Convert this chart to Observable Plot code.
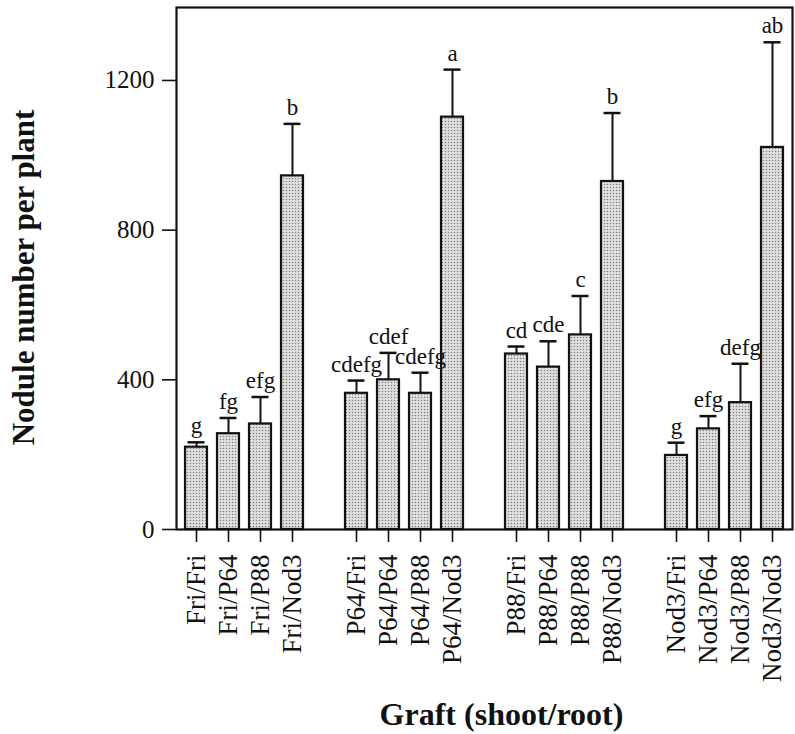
<!DOCTYPE html>
<html>
<head>
<meta charset="utf-8">
<script src="https://cdn.jsdelivr.net/npm/d3@7"></script>
<script src="https://cdn.jsdelivr.net/npm/@observablehq/plot@0.6"></script>
<style>
  html, body { margin: 0; padding: 0; background: #fff; }
</style>
</head>
<body>
<div id="chart"></div>
<script>
// Categories (graft shoot/root), in plotting order
const categories = [
  "Fri/Fri", "Fri/P64", "Fri/P88", "Fri/Nod3",
  "P64/Fri", "P64/P64", "P64/P88", "P64/Nod3",
  "P88/Fri", "P88/P64", "P88/P88", "P88/Nod3",
  "Nod3/Fri", "Nod3/P64", "Nod3/P88", "Nod3/Nod3"
];
// Mean nodule number per plant
const means = [220, 256, 282, 945, 364, 400, 364, 1102, 469, 434, 520, 930, 198, 269, 339, 1021];
// Standard error (upper bar only)
const errors = [13, 42, 72, 139, 34, 72, 55, 127, 20, 69, 104, 183, 34, 34, 104, 281];
// Significance letters
const letters = ["g", "fg", "efg", "b", "cdefg", "cdef", "cdefg", "a", "cd", "cde", "c", "b", "g", "efg", "defg", "ab"];
// Y-axis ticks
const yTicks = [0, 400, 800, 1200];
const yTitle = "Nodule number per plant";
const xTitle = "Graft (shoot/root)";

const rows = categories.map((c, i) => ({cat: c, mean: means[i], se: errors[i], top: means[i] + errors[i], letter: letters[i]}));

// Band domain with empty spacer slots between the four shoot groups
const domain = [];
categories.forEach((c, i) => {
  if (i > 0 && i % 4 === 0) domain.push("gap" + i);
  domain.push(c);
});

const plot = Plot.plot({
  width: 795,
  height: 734,
  marginLeft: 176,
  marginRight: 3,
  marginTop: 7,
  marginBottom: 205,
  style: {fontFamily: "'Liberation Serif', 'Times New Roman', serif", fontSize: "25px", color: "#111", background: "#fff"},
  x: {type: "band", domain, paddingInner: 0.3, paddingOuter: 0.15},
  y: {domain: [0, 1395]},
  marks: [
    Plot.ruleX(rows, {x: "cat", y1: "mean", y2: "top", stroke: "#111", strokeWidth: 2}),
    Plot.tickY(rows, {x: "cat", y: "top", stroke: "#111", strokeWidth: 2.5, insetLeft: 2.5, insetRight: 2.5}),
    Plot.barY(rows, {x: "cat", y: "mean", fill: "url(#dots)", stroke: "#111", strokeWidth: 2.2}),
    Plot.text(rows, {x: "cat", y: "top", text: "letter", lineAnchor: "bottom", dy: -9, fontSize: 23, fill: "#111"}),
    Plot.axisY({ticks: yTicks, tickFormat: d => String(d), tickSize: 14, tickPadding: 8, label: null, stroke: "#111", strokeWidth: 1.6, fontSize: 25}),
    Plot.axisX({ticks: categories, tickSize: 13, tickPadding: 12, tickRotate: -90, label: null, stroke: "#111", strokeWidth: 1.6, fontSize: 27}),
    Plot.frame({stroke: "#111", strokeWidth: 2.2}),
    Plot.text([yTitle], {frameAnchor: "left", textAnchor: "middle", lineAnchor: "middle", rotate: -90, dx: -152, dy: 9, fontSize: 31, fontWeight: "bold", fill: "#111"}),
    Plot.text([xTitle], {frameAnchor: "bottom", textAnchor: "middle", lineAnchor: "bottom", dx: 17, dy: 195, fontSize: 32, fontWeight: "bold", fill: "#111"})
  ]
});

// Stippled fill pattern for the bars
const ns = "http://www.w3.org/2000/svg";
const defs = document.createElementNS(ns, "defs");
const pat = document.createElementNS(ns, "pattern");
pat.setAttribute("id", "dots");
pat.setAttribute("patternUnits", "userSpaceOnUse");
pat.setAttribute("width", "3");
pat.setAttribute("height", "3");
const bg = document.createElementNS(ns, "rect");
bg.setAttribute("width", "3"); bg.setAttribute("height", "3"); bg.setAttribute("fill", "#e0e0e0");
pat.appendChild(bg);
const dot = document.createElementNS(ns, "circle");
dot.setAttribute("cx", "1.5"); dot.setAttribute("cy", "1.5"); dot.setAttribute("r", "0.75"); dot.setAttribute("fill", "#7f7f7f");
pat.appendChild(dot);
defs.appendChild(pat);
plot.insertBefore(defs, plot.firstChild);

document.getElementById("chart").appendChild(plot);
</script>
</body>
</html>
